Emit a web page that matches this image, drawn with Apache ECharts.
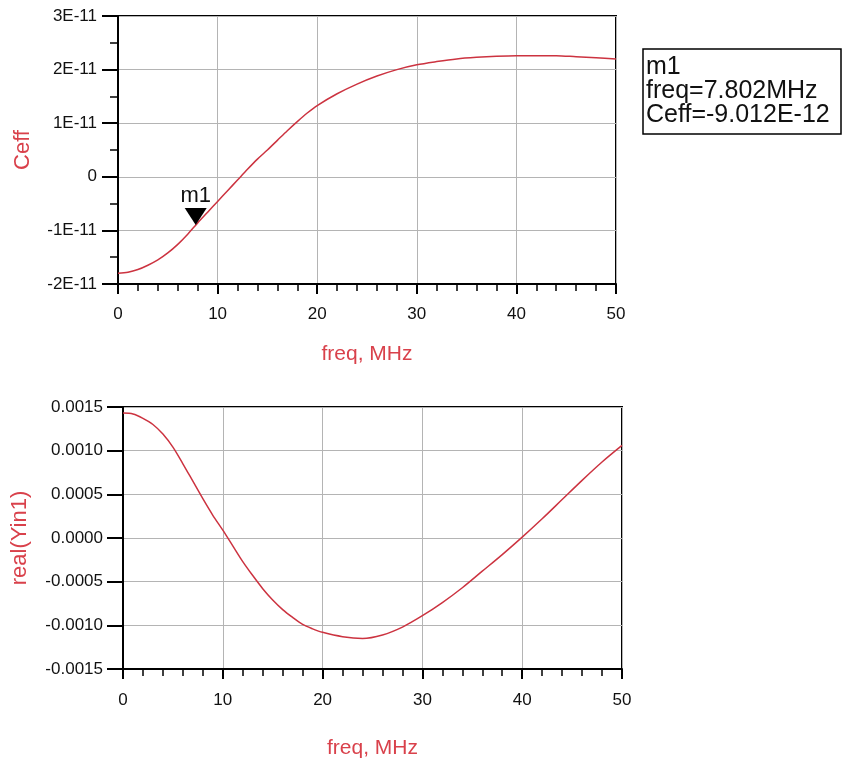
<!DOCTYPE html>
<html>
<head>
<meta charset="utf-8">
<script src="https://cdn.jsdelivr.net/npm/echarts@6/dist/echarts.min.js"></script>
<style>
html,body{margin:0;padding:0;background:#fff;}
#chart{width:843px;height:760px;}
</style>
</head>
<body>
<div id="chart"></div>
<script>
// ---- Data ----
const freqTop = [0,1,2,3,4,5,6,7,8,9,10,11,12,13,14,15,16,17,18,19,20,22,24,26,28,30,32,34,36,38,40,42,44,46,48,50];
const ceffValues = [-1.80e-11,-1.78e-11,-1.73e-11,-1.65e-11,-1.55e-11,-1.42e-11,-1.26e-11,-1.07e-11,-0.86e-11,-0.66e-11,-0.46e-11,-0.26e-11,-0.06e-11,0.14e-11,0.33e-11,0.50e-11,0.68e-11,0.86e-11,1.03e-11,1.19e-11,1.33e-11,1.55e-11,1.73e-11,1.88e-11,2.00e-11,2.09e-11,2.15e-11,2.20e-11,2.23e-11,2.25e-11,2.26e-11,2.26e-11,2.26e-11,2.24e-11,2.22e-11,2.20e-11];

const freqBottom = [0,1,2,3,4,5,6,7,8,9,10,11,12,13,14,15,16,17,18,19,20,22,24,26,28,30,32,34,36,38,40,42,44,46,48,50];
const realYinValues = [0.00143,0.00142,0.00137,0.00130,0.00119,0.00104,0.00085,0.00065,0.00045,0.00026,0.00009,-0.00009,-0.00027,-0.00043,-0.00058,-0.00071,-0.00082,-0.00091,-0.00099,-0.00104,-0.00108,-0.00113,-0.00115,-0.00111,-0.00102,-0.00089,-0.00074,-0.00057,-0.00038,-0.00019,0.00001,0.00022,0.00044,0.00066,0.00087,0.00106];

const ceffTickLabels = ['-2E-11','-1E-11','0','1E-11','2E-11','3E-11'];
const realTickLabels = ['-0.0015','-0.0010','-0.0005','0.0000','0.0005','0.0010','0.0015'];
const freqTickLabels = ['0','10','20','30','40','50'];

const markerName = 'm1';
const markerFreq = 7.802;
const markerCeff = -9.012e-12;

// ---- Styles ----
const FONT = "'Liberation Sans', Arial, sans-serif";
const RED = '#cc3340';
const TITLE_RED = '#d9414b';

function xAxisCfg(gridIndex) {
  return {
    type: 'value', gridIndex, min: 0, max: 50, interval: 10,
    name: 'freq, MHz', nameLocation: 'middle', nameGap: gridIndex === 0 ? 60 : 69,
    nameTextStyle: { color: TITLE_RED, fontSize: 21, fontFamily: FONT },
    axisLine: { show: true, onZero: false, lineStyle: { color: '#000', width: 2 } },
    axisTick: { show: true, length: 10, lineStyle: { color: '#000', width: 2 } },
    minorTick: { show: true, splitNumber: 5, length: 7, lineStyle: { color: '#000', width: 1.5 } },
    splitLine: { show: true, lineStyle: { color: '#b4b4b4', width: 1 } },
    axisLabel: { margin: gridIndex === 0 ? 22 : 23, color: '#111', fontSize: 17, fontFamily: FONT,
      formatter: v => freqTickLabels[Math.round(v / 10)] }
  };
}

const ceffMin = -2e-11, ceffStep = 1e-11;
const realMin = -0.0015, realStep = 0.0005;

const option = {
  backgroundColor: '#fff',
  animation: false,
  grid: [
    { left: 118, top: 16, width: 498, height: 268, show: true, borderColor: '#000', borderWidth: 2, backgroundColor: 'transparent' },
    { left: 123, top: 407, width: 499, height: 268, show: true, borderColor: '#000', borderWidth: 2, backgroundColor: 'transparent' }
  ],
  xAxis: [xAxisCfg(0), xAxisCfg(1)],
  yAxis: [
    {
      type: 'value', gridIndex: 0, min: ceffMin, max: 3e-11, interval: ceffStep,
      name: 'Ceff', nameLocation: 'middle', nameGap: 84, nameRotate: 90,
      nameTextStyle: { color: TITLE_RED, fontSize: 22, fontFamily: FONT },
      axisLine: { show: true, onZero: false, lineStyle: { color: '#000', width: 2 } },
      axisTick: { show: true, length: 16, lineStyle: { color: '#000', width: 2 } },
      minorTick: { show: true, splitNumber: 2, length: 8, lineStyle: { color: '#000', width: 1.5 } },
      splitLine: { show: true, lineStyle: { color: '#b4b4b4', width: 1 } },
      axisLabel: { margin: 21, color: '#111', fontSize: 17, fontFamily: FONT,
        formatter: v => ceffTickLabels[Math.round((v - ceffMin) / ceffStep)] }
    },
    {
      type: 'value', gridIndex: 1, min: realMin, max: 0.0015, interval: realStep,
      name: 'real(Yin1)', nameLocation: 'middle', nameGap: 92, nameRotate: 90,
      nameTextStyle: { color: TITLE_RED, fontSize: 22, fontFamily: FONT },
      axisLine: { show: true, onZero: false, lineStyle: { color: '#000', width: 2 } },
      axisTick: { show: true, length: 16, lineStyle: { color: '#000', width: 2 } },
      minorTick: { show: false },
      splitLine: { show: true, lineStyle: { color: '#b4b4b4', width: 1 } },
      axisLabel: { margin: 20, color: '#111', fontSize: 17, fontFamily: FONT,
        formatter: v => realTickLabels[Math.round((v - realMin) / realStep)] }
    }
  ],
  series: [
    {
      type: 'line', xAxisIndex: 0, yAxisIndex: 0,
      data: freqTop.map((f, i) => [f, ceffValues[i]]),
      showSymbol: false, smooth: 0.3,
      lineStyle: { color: RED, width: 1.5 }
    },
    {
      type: 'scatter', xAxisIndex: 0, yAxisIndex: 0,
      data: [[markerFreq, markerCeff]],
      symbol: 'path://M0,0 L22,0 L11,17 Z',
      symbolSize: [22, 17], symbolOffset: [0, -8.5],
      itemStyle: { color: '#000', opacity: 1 },
      label: { show: true, position: 'top', distance: 1, formatter: markerName,
        color: '#111', fontSize: 22, fontFamily: FONT },
      z: 5
    },
    {
      type: 'line', xAxisIndex: 1, yAxisIndex: 1,
      data: freqBottom.map((f, i) => [f, realYinValues[i]]),
      showSymbol: false, smooth: 0.3,
      lineStyle: { color: RED, width: 1.5 }
    }
  ],
  graphic: [
    { type: 'rect', shape: { x: 643, y: 49, width: 198, height: 85 },
      style: { fill: '#fff', stroke: '#000', lineWidth: 1.5 } },
    { type: 'text', x: 646, y: 55,
      style: { text: markerName + '\nfreq=' + markerFreq + 'MHz\nCeff=' + markerCeff.toExponential(3).toUpperCase(),
        font: '25px ' + FONT, fill: '#111', lineHeight: 24 } }
  ]
};

const chart = echarts.init(document.getElementById('chart'), null, { renderer: 'canvas' });
chart.setOption(option);
</script>
</body>
</html>
